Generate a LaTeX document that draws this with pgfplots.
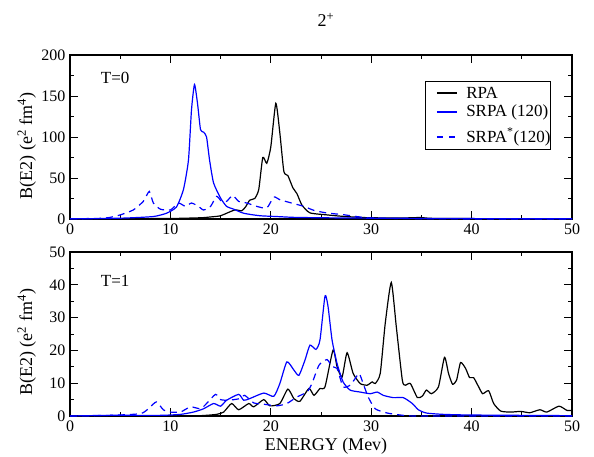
\documentclass[border=0pt]{standalone}
\usepackage{fontspec}
\setmainfont{Liberation Serif}
\usepackage{pgfplots}
\pgfplotsset{compat=1.18}

\definecolor{srpablue}{RGB}{0,0,255}

\pgfplotsset{
  panel/.style={
    scale only axis, width=502pt, height=164pt,
    xmin=0, xmax=50, xtick={0,10,...,50}, minor x tick num=1,
    ymin=0,
    tick align=inside, tick pos=both,
    major tick length=8pt, minor tick length=4pt,
    axis line style={line width=1.3pt},
    every tick/.style={black, line width=0.9pt},
    tick label style={font=\fontsize{16}{16}\selectfont},
    label style={font=\fontsize{18}{18}\selectfont},
    /pgf/number format/assume math mode=true,
    xticklabel style={yshift=-1pt},
    yticklabel style={xshift=-1pt},
  },
}

\begin{document}
\begin{tikzpicture}[x=1pt,y=1pt]
\useasboundingbox (0,0) rectangle (594,456);

\node[font=\fontsize{18}{18}\selectfont] at (326,436) {2\textsuperscript{+}};

% T=0
\begin{axis}[panel,
  at={(70pt,237pt)}, anchor=south west,
  ymax=200, ytick={0,50,...,200}, minor y tick num=1,
  ylabel={B(E2) (e\textsuperscript{2} fm\textsuperscript{4})},
  ylabel style={at={(axis description cs:-0.086,0.445)}, anchor=center, rotate=0},
]
\addplot[black, line width=1.2pt, smooth, tension=0.35] coordinates {
(0,0.3)(5,0.4)(10,0.6)(13,1.5)(14,2.5)(15,4)(16.4,11)(17.1,10)(17.5,15)(17.9,23)(18.4,25)(18.8,36)
(19.2,75)(19.6,68)(20.0,88)(20.5,141)(20.9,105)(21.3,58)(21.7,53)(22.2,38)(22.6,31)(23.1,17)
(23.9,7.5)(25.6,5)(27.2,3.2)(28.9,2)(30,1.5)(33,1.2)(34.9,1.8)(36,0.8)(40,0.5)(45,0.3)(50,0.2)};
\addplot[srpablue, line width=1.2pt, smooth, tension=0.35] coordinates {
(0,0.3)(3,0.5)(5.6,1.2)(8.3,3)(9.6,7)(10.6,14.6)(11.3,36)(11.8,72)(12.1,133)(12.4,164)
(12.7,141)(13.0,109)(13.3,106)(13.6,100)(13.9,72)(14.3,44)(15.0,25.5)(15.6,15.4)(16.3,12)
(17.3,7)(18.9,4)(20.6,3)(22.3,2)(25,1.5)(30,1)(40,0.5)(50,0.3)};
\addplot[srpablue, line width=1.2pt, smooth, tension=0.35, dash pattern=on 7pt off 5pt] coordinates {
(0,0.2)(3,0.8)(4,2)(5,5)(6.3,11)(7.3,21.5)(7.9,33.7)(8.3,19.5)(9,12)(10,11)(10.8,19.5)
(11.5,15.4)(12.1,19.5)(12.8,15.4)(13.3,11)(14,15.4)(14.6,27.6)(15.1,21.5)(15.6,21.5)(16.2,28.8)
(16.8,21.5)(17.6,19.5)(18.6,15.4)(19.6,13.4)(20.3,26.8)(20.9,23.5)(22.3,18.7)(23.3,15.4)
(24.3,10.5)(25.6,7.3)(27.2,5.3)(28.9,2.4)(30,1.2)(35,0.3)(40,0.1)(50,0)};
\node[font=\fontsize{17}{17}\selectfont] at (axis description cs:0.09,0.86) {T=0};
% legend box
\draw[black, line width=0.8pt] (axis description cs:0.707,0.427) rectangle (axis description cs:0.956,0.841);
\draw[black, line width=1.2pt] (axis description cs:0.731,0.768) -- (axis description cs:0.771,0.768);
\draw[srpablue, line width=1.2pt] (axis description cs:0.731,0.652) -- (axis description cs:0.771,0.652);
\draw[srpablue, line width=1.2pt] (axis description cs:0.731,0.50) -- (axis description cs:0.743,0.50);
\draw[srpablue, line width=1.2pt] (axis description cs:0.755,0.50) -- (axis description cs:0.767,0.50);
\node[anchor=west, inner sep=0pt, font=\fontsize{17}{17}\selectfont] at (axis description cs:0.789,0.768) {RPA};
\node[anchor=west, inner sep=0pt, font=\fontsize{17}{17}\selectfont] at (axis description cs:0.789,0.652) {SRPA (120)};
\node[anchor=west, inner sep=0pt, font=\fontsize{17}{17}\selectfont] at (axis description cs:0.789,0.50) {SRPA\textsuperscript{*}(120)};
\end{axis}

% T=1
\begin{axis}[panel,
  at={(70pt,40pt)}, anchor=south west,
  ymax=50, ytick={0,10,...,50}, minor y tick num=1,
  ylabel={B(E2) (e\textsuperscript{2} fm\textsuperscript{4})},
  ylabel style={at={(axis description cs:-0.086,0.45)}, anchor=center, rotate=0},
  xlabel={ENERGY (Mev)},
  xlabel style={at={(axis description cs:0.51,-0.183)}, anchor=center},
]
\addplot[black, line width=1.2pt, smooth, tension=0.35] coordinates {
(0,0)(10,0)(13,0.1)(14.6,0.5)(15.3,1.2)(16.1,3.8)(16.8,1.9)(17.8,3.8)(18.3,2.8)(19.3,5)(19.9,3.1)
(20.9,3.8)(21.7,8.2)(22.3,5.3)(22.9,4.5)(23.8,8.4)(24.3,6.3)(24.9,8.4)(25.4,8.9)(26.2,20.1)
(26.6,15)(27.1,11.9)(27.6,19.3)(28.2,13)(28.9,9.9)(29.6,9.4)(30.1,10.4)(30.4,9.9)(30.9,13)
(31.4,28.3)(32,40.7)(32.5,27.2)(33.1,10.9)(33.4,9.4)(33.9,9.9)(34.6,5.6)(35.1,6.1)(35.5,7.9)
(36.0,6.8)(36.7,8.9)(37.3,17.9)(37.7,13)(38.1,9.7)(38.5,10.9)(38.9,16.3)(39.4,14.5)(39.8,11.7)
(40.2,11.7)(40.7,8.9)(41.1,6.8)(41.7,7.7)(42.2,3.8)(42.9,1.5)(43.9,1.2)(44.9,1.4)(45.8,1)
(46.8,1.9)(47.5,1.2)(48.7,3)(49.5,1.7)(50,1.7)};
\addplot[srpablue, line width=1.2pt, smooth, tension=0.35] coordinates {
(0,0)(4,0.2)(9,0.2)(11,0.5)(12.3,1.2)(13.3,2.2)(14.3,3.8)(15.0,3)(15.6,4.8)(16.8,6.6)(17.3,4.8)
(17.9,5.3)(19.3,7)(20.3,6)(20.9,9.9)(21.6,16.5)(22.3,14)(22.8,12.4)(23.4,17)(23.9,21.6)(24.5,20.3)
(24.9,23.2)(25.4,36.6)(25.7,33.4)(26.1,23.2)(26.6,16)(27.2,10.4)(27.9,7.9)(28.9,7.3)(29.9,6.8)
(30.6,7.3)(31.2,6.3)(32.2,5.6)(33.2,5.6)(34.1,3.8)(34.7,1.9)(35.5,0.9)(37.2,0.5)(40,0.3)(50,0.1)};
\addplot[srpablue, line width=1.2pt, smooth, tension=0.35, dash pattern=on 7pt off 5pt] coordinates {
(0,0)(4,0.2)(7,0.7)(7.8,2.2)(8.6,4.3)(9.3,1.9)(10,1.2)(11,1.2)(12,2.8)(13,2.2)(13.6,3.8)(14.5,6.6)
(15,5)(15.8,4.8)(16.9,5.3)(17.4,6.3)(18.3,4)(19.3,3.6)(20.6,3.1)(21.6,3.8)(22.6,5.8)(23.6,7.3)
(24.1,9.9)(24.8,15.5)(25.6,17.2)(26.1,15)(26.6,14.5)(27.2,8.9)(27.9,9.4)(28.4,11.4)(28.8,13)
(29.2,9.9)(29.7,5.8)(30.4,2.2)(31.6,0.9)(33.2,0.2)(35,0)(50,0)};
\node[font=\fontsize{17}{17}\selectfont] at (axis description cs:0.09,0.823) {T=1};
\end{axis}
\end{tikzpicture}
\end{document}
